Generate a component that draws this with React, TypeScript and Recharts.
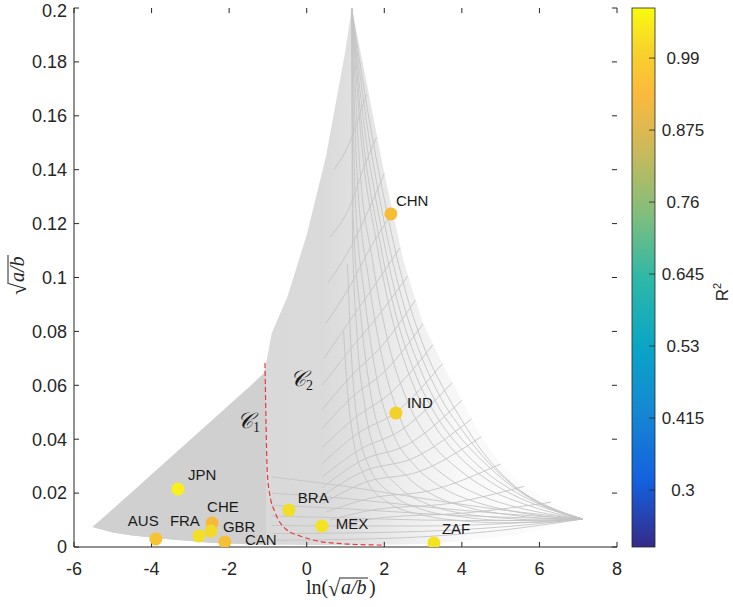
import React from 'react';
import {
  ComposedChart,
  Area,
  Line,
  Scatter,
  XAxis,
  YAxis,
  ReferenceDot,
  ReferenceLine,
  Customized,
} from 'recharts';

// axis ticks
const xTicks = [-6, -4, -2, 0, 2, 4, 6, 8];
const yTicks = [0, 0.02, 0.04, 0.06, 0.08, 0.1, 0.12, 0.14, 0.16, 0.18, 0.2];
const colorTicks = [0.3, 0.415, 0.53, 0.645, 0.76, 0.875, 0.99];
const colorRange = [0.209, 1.07];

// outline of the (a,b) mesh: [x, lower, upper]
const envelope: number[][] = [
  [-5.52, 0.0074, 0.0074],
  [-5, 0.0054, 0.014],
  [-4.5, 0.0043, 0.0204],
  [-4, 0.0035, 0.0269],
  [-3.5, 0.0028, 0.0333],
  [-3, 0.0022, 0.0398],
  [-2.5, 0.0016, 0.0462],
  [-2, 0.0013, 0.0527],
  [-1.5, 0.001, 0.0591],
  [-1.1, 0.0009, 0.0645],
  [-1.05, 0.0009, 0.068],
  [-0.9, 0.0008, 0.0794],
  [-0.5, 0.0008, 0.0928],
  [0, 0.0007, 0.1158],
  [0.5, 0.0007, 0.1451],
  [1, 0.0007, 0.1844],
  [1.16, 0.0007, 0.2],
  [1.5, 0.0007, 0.1755],
  [2, 0.0008, 0.1386],
  [2.5, 0.0009, 0.1059],
  [3, 0.0011, 0.0828],
  [3.5, 0.0017, 0.0681],
  [4, 0.0022, 0.0544],
  [4.5, 0.0032, 0.0409],
  [5, 0.0039, 0.0308],
  [5.5, 0.005, 0.0234],
  [6, 0.0065, 0.019],
  [6.5, 0.0082, 0.0151],
  [7, 0.0098, 0.0112],
  [7.12, 0.0104, 0.0104],
];

// mesh curves running from the peak to the right tip
const familyA: number[][][] = [
  [[1.16, 0.2], [1.5, 0.168], [2, 0.129], [2.5, 0.0975], [3, 0.075], [3.5, 0.0595], [4, 0.047], [4.5, 0.036], [5, 0.0275], [5.5, 0.021], [6, 0.0165], [6.5, 0.0133], [7.12, 0.0104]],
  [[1.16, 0.2], [1.48, 0.164], [1.95, 0.124], [2.45, 0.0925], [2.95, 0.071], [3.45, 0.0555], [4, 0.0435], [4.55, 0.0335], [5.1, 0.0255], [5.65, 0.0195], [6.2, 0.0152], [6.7, 0.0124], [7.12, 0.0104]],
  [[1.16, 0.2], [1.45, 0.16], [1.9, 0.12], [2.4, 0.088], [2.9, 0.067], [3.4, 0.052], [4, 0.04], [4.6, 0.031], [5.2, 0.0235], [5.8, 0.0178], [6.4, 0.0135], [7.12, 0.0104]],
  [[1.16, 0.2], [1.42, 0.156], [1.85, 0.116], [2.32, 0.085], [2.82, 0.0635], [3.35, 0.0485], [3.95, 0.037], [4.6, 0.028], [5.25, 0.0215], [5.9, 0.0165], [6.5, 0.013], [7.12, 0.0104]],
  [[1.16, 0.2], [1.4, 0.152], [1.8, 0.113], [2.25, 0.082], [2.75, 0.06], [3.3, 0.045], [3.9, 0.034], [4.6, 0.0255], [5.3, 0.0195], [6, 0.0152], [6.6, 0.0125], [7.12, 0.0104]],
  [[1.16, 0.2], [1.35, 0.145], [1.7, 0.106], [2.1, 0.076], [2.6, 0.054], [3.2, 0.039], [3.9, 0.029], [4.6, 0.022], [5.4, 0.017], [6.2, 0.0133], [7.12, 0.0104]],
  [[1.16, 0.2], [1.3, 0.138], [1.6, 0.099], [1.95, 0.07], [2.4, 0.048], [3, 0.034], [3.7, 0.025], [4.5, 0.019], [5.4, 0.0148], [6.3, 0.0121], [7.12, 0.0104]],
  [[1.16, 0.2], [1.25, 0.13], [1.5, 0.092], [1.8, 0.063], [2.2, 0.043], [2.8, 0.03], [3.5, 0.022], [4.4, 0.0165], [5.3, 0.0133], [6.2, 0.0113], [7.12, 0.0104]],
  [[1.16, 0.2], [1.2, 0.122], [1.4, 0.085], [1.65, 0.057], [2, 0.038], [2.6, 0.026], [3.3, 0.019], [4.2, 0.0145], [5.2, 0.012], [6.2, 0.0106], [7.12, 0.0104]],
  [[1.16, 0.2], [1.18, 0.115], [1.3, 0.078], [1.5, 0.052], [1.8, 0.034], [2.4, 0.022], [3.1, 0.016], [4, 0.0125], [5, 0.0108], [6.1, 0.01], [7.12, 0.0104]],
  [[1.05, 0.105], [1.15, 0.072], [1.3, 0.047], [1.6, 0.03], [2.2, 0.0195], [3, 0.0138], [4, 0.0112], [5, 0.0099], [6.1, 0.0097], [7.12, 0.0104]],
  [[0.95, 0.08], [1.05, 0.058], [1.2, 0.04], [1.5, 0.026], [2.1, 0.0165], [3, 0.0118], [4, 0.0097], [5, 0.009], [6.1, 0.0092], [7.12, 0.0104]],
];

// mesh curves crossing them, ending on the right edge
const familyB: number[][][] = [
  [[0.7, 0.14], [1.16, 0.152], [1.35, 0.16], [1.55, 0.168]],
  [[0.6, 0.115], [1.16, 0.128], [1.45, 0.14], [1.8, 0.152]],
  [[0.55, 0.098], [1.16, 0.112], [1.5, 0.122], [2, 0.1386]],
  [[0.5, 0.083], [1.16, 0.098], [1.6, 0.11], [2.2, 0.124]],
  [[0.45, 0.07], [1.16, 0.085], [1.7, 0.096], [2.4, 0.111]],
  [[0.4, 0.06], [1.16, 0.074], [1.8, 0.085], [2.6, 0.1005]],
  [[0.4, 0.051], [1.18, 0.064], [1.9, 0.074], [2.8, 0.0915]],
  [[0.4, 0.044], [1.2, 0.056], [2, 0.065], [3, 0.0828]],
  [[0.4, 0.037], [1.25, 0.048], [2.15, 0.057], [3.25, 0.075]],
  [[0.4, 0.031], [1.3, 0.042], [2.3, 0.05], [3.5, 0.0681]],
  [[0.4, 0.026], [1.35, 0.036], [2.45, 0.0435], [3.75, 0.061]],
  [[0.4, 0.022], [1.4, 0.032], [2.6, 0.038], [4, 0.0544]],
  [[0.4, 0.019], [1.45, 0.028], [2.75, 0.033], [4.25, 0.0475]],
  [[0.4, 0.016], [1.5, 0.024], [2.9, 0.028], [4.5, 0.0409]],
  [[0.5, 0.013], [1.6, 0.018], [3.2, 0.021], [5, 0.0308]],
  [[0.6, 0.01], [1.8, 0.014], [3.6, 0.016], [5.6, 0.0225]],
  [[0.8, 0.008], [2, 0.011], [4, 0.0125], [6.3, 0.0166]],
];

// near-horizontal curves along the bottom, closing on the right tip
const bottomFan: number[][][] = [
  [[-0.9, 0.0025], [1, 0.0028], [3, 0.0038], [5, 0.0062], [7.12, 0.0104]],
  [[-0.9, 0.005], [1, 0.0052], [3, 0.0058], [5, 0.0074], [7.12, 0.0104]],
  [[-0.9, 0.008], [1, 0.0078], [3, 0.0078], [5, 0.0086], [7.12, 0.0104]],
  [[-0.9, 0.0115], [1, 0.0108], [3, 0.01], [5, 0.0098], [7.12, 0.0104]],
  [[-0.9, 0.0155], [1, 0.0142], [3, 0.0124], [5, 0.0111], [7.12, 0.0104]],
  [[-0.9, 0.02], [1, 0.018], [3, 0.015], [5, 0.0124], [7.12, 0.0104]],
  [[-0.9, 0.026], [1, 0.0225], [3, 0.018], [5, 0.0138], [7.12, 0.0104]],
];

// red dashed boundary between C1 and C2
const boundaryDashed: number[][] = [
  [-1.076, 0.0683], [-1.05, 0.0471], [-1.02, 0.0286], [-0.95, 0.0193], [-0.82, 0.013],
  [-0.51, 0.0063], [-0.17, 0.0041], [0.16, 0.0026], [1.04, 0.0011], [1.99, 0.0007],
];

// countries
const countries = ['CHN', 'IND', 'BRA', 'MEX', 'ZAF', 'JPN', 'AUS', 'FRA', 'CHE', 'GBR', 'CAN'];
const countryX = [2.17, 2.3, -0.46, 0.39, 3.28, -3.32, -3.89, -2.78, -2.44, -2.47, -2.11];
const countryY = [0.1236, 0.0497, 0.0137, 0.0078, 0.0015, 0.0215, 0.003, 0.0041, 0.0089, 0.0059, 0.0019];

// styles
const countryColor = ['#f8bd36', '#f3d02a', '#f1de27', '#f3e321', '#f3e321', '#f8ef1b', '#f6c432', '#f3df26', '#f7b93a', '#f4da28', '#f6bf34'];
const labelOffset: Record<string, [number, number]> = {
  CHN: [5, -8], IND: [11, -5], BRA: [9, -7], MEX: [14, 3], ZAF: [8, -9], JPN: [10, -9],
  AUS: [-28, -13], FRA: [-29, -10], CHE: [-5, -11], GBR: [12, 1], CAN: [20, 3],
};
const parulaStops: [number, string][] = [
  [0, '#352a87'], [0.12, '#1460de'], [0.25, '#1587d3'], [0.37, '#0aa5c6'], [0.5, '#2fb8a7'],
  [0.62, '#82be7b'], [0.74, '#cdb95a'], [0.84, '#fbb93d'], [0.92, '#f7d22c'], [1, '#f9fb0e'],
];

const AXIS = '#262626';
const MESH = '#c4c4c4';
const SANS = '"Liberation Sans", Arial, Helvetica, sans-serif';
const SERIF = '"Liberation Serif", "DejaVu Serif", "Times New Roman", serif';
const TICK_DX = 0.13; // 5px inward tick length, in x units
const TICK_DY = 0.0019; // 5px inward tick length, in y units

const envRows = envelope.map(([x, lo, hi]) => ({ x, r: [lo, hi] }));
const c1Rows = envelope.filter(([x]) => x <= -1.05).map(([x, lo, hi]) => ({ x, r: [lo, hi] }));
const toRows = (pts: number[][]) => pts.map(([x, y]) => ({ x, y }));
const meshCurves = [...familyA, ...familyB, ...bottomFan];
const points = countries.map((name, i) => ({ name, x: countryX[i], y: countryY[i], fill: countryColor[i] }));

const CountryDot = (props: any) => {
  const { cx, cy, payload } = props;
  const [dx, dy] = labelOffset[payload.name];
  return (
    <g>
      <circle cx={cx} cy={cy} r={6.5} fill={payload.fill} />
      <text x={cx + dx} y={cy + dy} fontSize={15} fontFamily={SANS} fill="#1a1a1a">
        {payload.name}
      </text>
    </g>
  );
};

const RegionLabel = (sub: string) => (props: any) => (
  <text x={props.cx} y={props.cy} fontFamily={SERIF} fill="#1a1a1a">
    <tspan fontSize={22} fontStyle="italic">𝒞</tspan>
    <tspan fontSize={14} dy={4}>{sub}</tspan>
  </text>
);

// sqrt(a/b) written as in LaTeX, local coordinates centred on 0
const SqrtText = ({ withLn }: { withLn: boolean }) => {
  const start = withLn ? -40 : -20;
  const rad = withLn ? start + 22 : start;
  return (
    <g fontFamily={SERIF} fill={AXIS}>
      {withLn && (
        <text x={start} y={0} fontSize={20}>ln(</text>
      )}
      <text x={rad} y={2} fontSize={22}>√</text>
      <line x1={rad + 11} x2={rad + 40} y1={-16} y2={-16} stroke={AXIS} strokeWidth={1} />
      <text x={rad + 13} y={0} fontSize={20} fontStyle="italic">a/b</text>
      {withLn && (
        <text x={rad + 41} y={0} fontSize={20}>)</text>
      )}
    </g>
  );
};

// plot box in page pixels
const BOX = { left: 74, top: 8, right: 617, bottom: 547 };

const Decorations = () => {
  const barX = 632;
  const barW = 23;
  const barH = BOX.bottom - BOX.top;
  const yOf = (v: number) => BOX.bottom - ((v - colorRange[0]) / (colorRange[1] - colorRange[0])) * barH;
  return (
    <g>
      <defs>
        <linearGradient id="parula" x1="0" y1="1" x2="0" y2="0">
          {parulaStops.map(([o, c]) => (
            <stop key={o} offset={o} stopColor={c} />
          ))}
        </linearGradient>
      </defs>
      <rect x={barX} y={BOX.top} width={barW} height={barH} fill="url(#parula)" stroke={AXIS} strokeWidth={0.8} />
      {colorTicks.map((v) => (
        <g key={v}>
          <line x1={barX + barW - 6} x2={barX + barW} y1={yOf(v)} y2={yOf(v)} stroke={AXIS} strokeWidth={0.8} />
          <text x={683} y={yOf(v)} textAnchor="middle" dominantBaseline="central" fontSize={17} fontFamily={SANS} fill={AXIS}>
            {String(v)}
          </text>
        </g>
      ))}
      <text transform="translate(728,292) rotate(-90)" textAnchor="middle" fontSize={17} fontFamily={SANS} fill={AXIS}>
        R<tspan fontSize={11} dy={-7}>2</tspan>
      </text>
      <g transform="translate(346,594)">
        <SqrtText withLn />
      </g>
      <g transform="translate(24,275) rotate(-90)">
        <SqrtText withLn={false} />
      </g>
    </g>
  );
};

export default function App() {
  const tickStyle = { fontSize: 18, fontFamily: SANS, fill: AXIS };
  return (
    <div style={{ position: 'absolute', left: 0, top: 0, background: '#fff' }}>
      <ComposedChart width={733} height={607} margin={{ top: BOX.top, right: 733 - BOX.right, bottom: 0, left: 0 }}>
        <defs>
          <linearGradient id="meshFade" x1="0" y1="0" x2="1" y2="0">
            <stop offset="0" stopColor="#d6d6d6" />
            <stop offset="0.47" stopColor="#dadada" />
            <stop offset="0.55" stopColor="#e2e2e2" />
            <stop offset="0.64" stopColor="#eeeeee" />
            <stop offset="0.76" stopColor="#f9f9f9" />
            <stop offset="1" stopColor="#fdfdfd" />
          </linearGradient>
        </defs>
        <XAxis
          dataKey="x"
          type="number"
          domain={[-6, 8]}
          ticks={xTicks}
          allowDataOverflow
          height={607 - BOX.bottom}
          tickSize={-5}
          tickMargin={20}
          tickLine={false}
          tick={tickStyle}
          stroke={AXIS}
        />
        <XAxis xAxisId="top" orientation="top" type="number" domain={[-6, 8]} ticks={xTicks} allowDataOverflow height={0} tickLine={false} tick={false} stroke={AXIS} />
        <YAxis
          dataKey="y"
          type="number"
          domain={[0, 0.2]}
          ticks={yTicks}
          allowDataOverflow
          width={BOX.left}
          tickSize={-5}
          tickMargin={12}
          tickLine={false}
          tick={tickStyle}
          tickFormatter={(v: number) => String(v)}
          stroke={AXIS}
        />
        <YAxis yAxisId="right" orientation="right" type="number" domain={[0, 0.2]} ticks={yTicks} allowDataOverflow width={0} tickLine={false} tick={false} stroke={AXIS} />

        <Area data={envRows} dataKey="r" type="linear" stroke="none" fill="url(#meshFade)" fillOpacity={1} isAnimationActive={false} />
        <Area data={c1Rows} dataKey="r" type="linear" stroke="none" fill="#d0d0d0" fillOpacity={1} isAnimationActive={false} />

        {meshCurves.map((pts, i) => (
          <Line key={`m${i}`} data={toRows(pts)} dataKey="y" type="monotone" stroke={MESH} strokeWidth={0.9} dot={false} activeDot={false} isAnimationActive={false} />
        ))}
        <Line
          data={toRows(boundaryDashed)}
          dataKey="y"
          type="monotone"
          stroke="#e8393f"
          strokeWidth={1.2}
          strokeDasharray="5 3"
          dot={false}
          activeDot={false}
          isAnimationActive={false}
        />

        {/* inward ticks on all four sides of the box */}
        {xTicks.map((t) => (
          <ReferenceLine key={`xb${t}`} segment={[{ x: t, y: 0 }, { x: t, y: TICK_DY }]} stroke={AXIS} ifOverflow="visible" />
        ))}
        {xTicks.map((t) => (
          <ReferenceLine key={`xt${t}`} segment={[{ x: t, y: 0.2 }, { x: t, y: 0.2 - TICK_DY }]} stroke={AXIS} ifOverflow="visible" />
        ))}
        {yTicks.map((t) => (
          <ReferenceLine key={`yl${t}`} segment={[{ x: -6, y: t }, { x: -6 + TICK_DX, y: t }]} stroke={AXIS} ifOverflow="visible" />
        ))}
        {yTicks.map((t) => (
          <ReferenceLine key={`yr${t}`} segment={[{ x: 8, y: t }, { x: 8 - TICK_DX, y: t }]} stroke={AXIS} ifOverflow="visible" />
        ))}

        <ReferenceDot x={-1.8} y={0.0442} r={0} shape={RegionLabel('1')} />
        <ReferenceDot x={-0.43} y={0.0597} r={0} shape={RegionLabel('2')} />

        <Scatter data={points} dataKey="y" shape={CountryDot} isAnimationActive={false} />
        <Customized component={Decorations} />
      </ComposedChart>
    </div>
  );
}
